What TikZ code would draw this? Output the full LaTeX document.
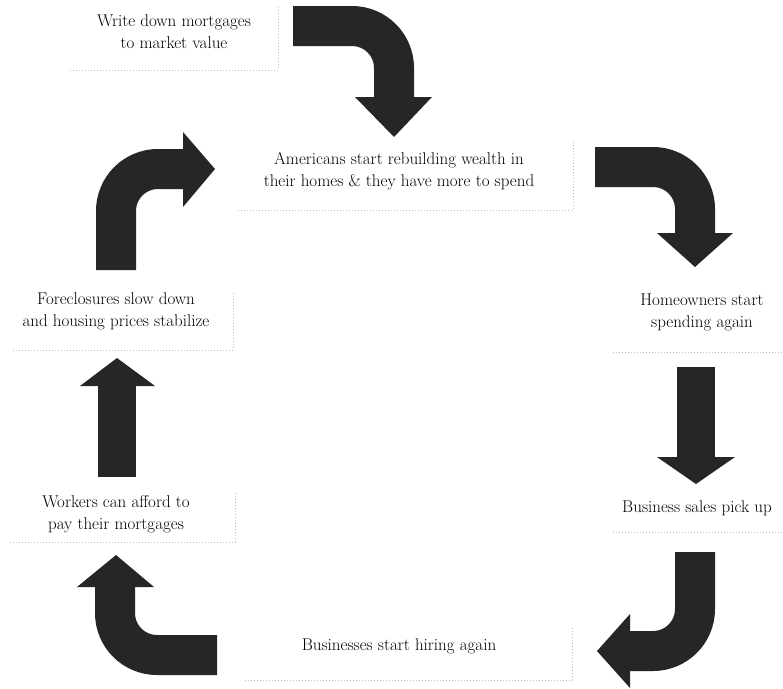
\documentclass[tikz,border=0pt]{standalone}
\begin{document}
\begin{tikzpicture}[x=1pt,y=-1pt,
  lbl/.style={align=center,text=black,font=\fontsize{17}{22}\selectfont,inner sep=0pt},
  edge/.style={draw=gray!50,dotted,line width=1pt},
  band/.style={draw=black!85,line width=40pt,rounded corners=42pt,line cap=butt},
  head/.style={fill=black!85}]
\useasboundingbox (0,0) rectangle (783,688);
\fill[white] (0,0) rectangle (783,688);

% text nodes
\node[lbl] (t1) at (174,32) {Write down mortgages\\to market value};
\node[lbl] (t2) at (399,171) {Americans start rebuilding wealth in\\their homes \& they have more to spend};
\node[lbl] (t3) at (702,312) {Homeowners start\\spending again};
\node[lbl] (t4) at (697,508) {Business sales pick up};
\node[lbl] (t5) at (399,646) {Businesses start hiring again};
\node[lbl] (t6) at (116,514) {Workers can afford to\\pay their mortgages};
\node[lbl] (t7) at (116,311) {Foreclosures slow down\\and housing prices stabilize};

% box edges
\draw[edge] (70,70) -- (278,70) -- (278,5);
\draw[edge] (238,210) -- (573,210) -- (573,142);
\draw[edge] (613,352) -- (783,352);
\draw[edge] (613,532) -- (783,532);
\draw[edge] (245,680) -- (572,680) -- (572,627);
\draw[edge] (10,542) -- (235,542) -- (235,493);
\draw[edge] (13,350) -- (233,350) -- (233,293);

% arrow 1: t1 -> t2
\draw[band] (293,26) -- (394,26) -- (394,98);
\fill[head] (355,97) -- (432,97) -- (394,137) -- cycle;
% arrow 3: t2 -> t3
\draw[band] (595,167) -- (695,167) -- (695,234);
\fill[head] (657,233) -- (733,233) -- (695,267) -- cycle;
% arrow 4: t3 -> t4
\draw[draw=black!85,line width=38pt] (696,367) -- (696,458);
\fill[head] (657,457) -- (735,457) -- (696,484) -- cycle;
% arrow 5: t4 -> t5
\draw[band] (695,552) -- (695,651) -- (629,651);
\fill[head] (630,614) -- (630,688) -- (597,651) -- cycle;
% arrow 6: t5 -> t6
\draw[band] (217,655) -- (115,655) -- (115,586);
\fill[head] (77,587) -- (154,587) -- (116,555) -- cycle;
% arrow 7: t6 -> t7
\draw[draw=black!85,line width=38pt] (117,477) -- (117,385);
\fill[head] (80,386) -- (155,386) -- (117,358) -- cycle;
% arrow 2: t7 -> t2
\draw[band] (116,270) -- (116,169) -- (184,169);
\fill[head] (183,132) -- (183,207) -- (215,169) -- cycle;
\end{tikzpicture}
\end{document}
